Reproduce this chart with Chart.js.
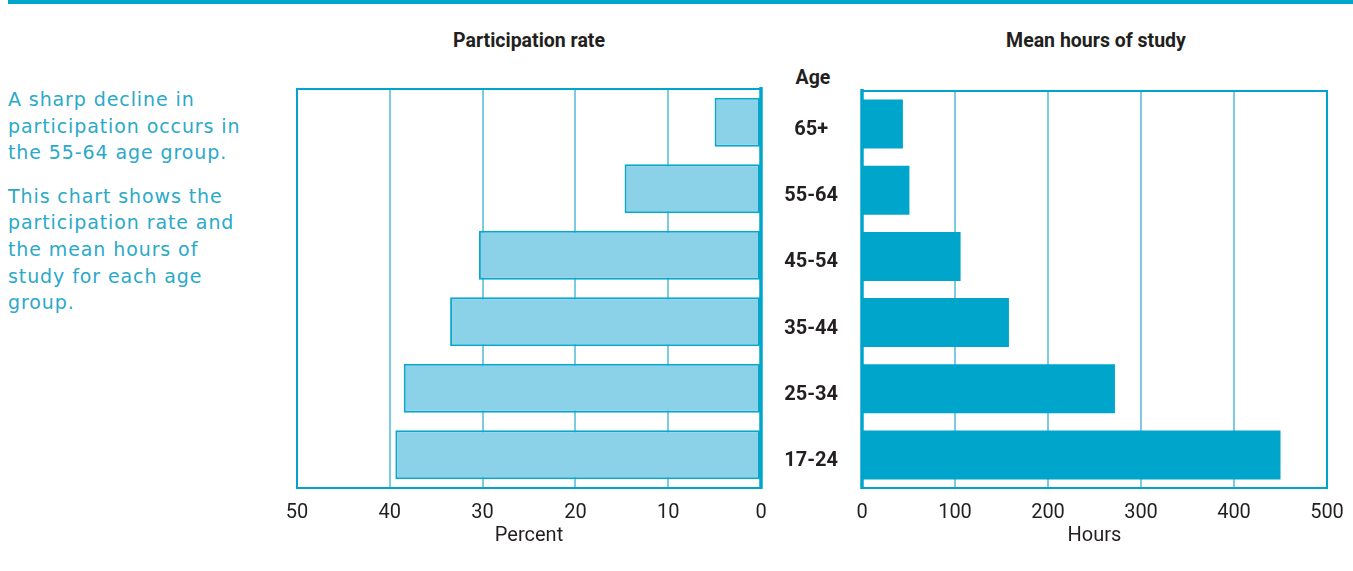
<!DOCTYPE html>
<html>
<head>
<meta charset="utf-8">
<script src="https://cdn.jsdelivr.net/npm/chart.js@4.4.0/dist/chart.umd.min.js"></script>
<style>
  body { margin: 0; background: #fff; width: 1353px; height: 571px; position: relative; overflow: hidden;
         font-family: Roboto, 'Liberation Sans', sans-serif; color: #231f20; }
  .rule { position: absolute; left: 8px; right: 0; top: 0; height: 4px; background: #00a5cb; }
  .note { position: absolute; left: 8px; top: 86px; width: 280px; font-family: 'DejaVu Sans', sans-serif;
          font-size: 19px; line-height: 26.6px; letter-spacing: 0.9px; color: #2aa9c9; }
  .note p { margin: 0 0 17px 0; white-space: nowrap; }
  .head { position: absolute; font-weight: bold; font-size: 19.5px; line-height: 24px;
          transform: translateX(-50%); white-space: nowrap; }
  #wrapL { position: absolute; left: 280px; top: 80px; width: 500px; height: 470px; }
  #wrapR { position: absolute; left: 770px; top: 80px; width: 583px; height: 470px; }
</style>
</head>
<body>
<div class="rule"></div>
<div class="note">
  <p>A sharp decline in<br>participation occurs in<br>the 55-64 age group.</p>
  <p>This chart shows the<br>participation rate and<br>the mean hours of<br>study for each age<br>group.</p>
</div>
<div class="head" style="left:529px;top:29px">Participation rate</div>
<div class="head" style="left:1096px;top:29px">Mean hours of study</div>
<div class="head" style="left:813px;top:66px">Age</div>
<div id="wrapL"><canvas id="leftChart"></canvas></div>
<div id="wrapR"><canvas id="rightChart"></canvas></div>

<script>
// --- données ---
const AGE_GROUPS = ['65+', '55-64', '45-54', '35-44', '25-34', '17-24'];
const PARTICIPATION = [5, 14.7, 30.4, 33.5, 38.5, 39.4];   // %
const MEAN_HOURS = [44, 51, 106, 158, 272, 450];           // heures
const PERCENT_TICKS = [0, 10, 20, 30, 40, 50];
const HOURS_TICKS = [0, 100, 200, 300, 400, 500];

const FRAME = '#00a5cb';
const GRID = '#7dcbe3';
const TEXT = '#231f20';

Chart.defaults.font.family = "Roboto, 'Liberation Sans', sans-serif";
Chart.defaults.color = TEXT;

// on neutralise les marges automatiques des échelles, la mise en page vient de layout.padding
function noPadding(s) {
  s.paddingTop = 0; s.paddingBottom = 0; s.paddingLeft = 0; s.paddingRight = 0;
}

// cadre autour de la zone de tracé + trait épais sur le zéro
const framePlugin = {
  id: 'frame',
  afterDatasetsDraw(chart) {
    const { ctx, chartArea: a } = chart;
    ctx.save();
    ctx.strokeStyle = FRAME;
    ctx.lineWidth = 2;
    ctx.strokeRect(a.left, a.top, a.right - a.left, a.bottom - a.top);
    const x0 = chart.scales.x.getPixelForValue(0);
    ctx.lineWidth = 3.5;
    ctx.beginPath();
    ctx.moveTo(x0, a.top - 2);
    ctx.lineTo(x0, a.bottom + 1);
    ctx.stroke();
    ctx.restore();
  }
};

function xScale(ticksList, max, title, reverse) {
  return {
    type: 'linear',
    min: 0,
    max: max,
    reverse: reverse,
    afterBuildTicks: s => { s.ticks = ticksList.map(v => ({ value: v })); },
    afterFit: s => { s.height = 62; noPadding(s); },
    grid: { color: GRID, lineWidth: 2, drawTicks: false },
    border: { display: false },
    ticks: { font: { size: 20 }, padding: 13, color: TEXT, maxRotation: 0 },
    title: { display: true, text: title, font: { size: 20 }, color: TEXT, padding: { top: 2, bottom: 2 } }
  };
}

new Chart(document.getElementById('leftChart'), {
  type: 'bar',
  data: {
    labels: AGE_GROUPS,
    datasets: [{
      data: PARTICIPATION,
      backgroundColor: '#8bd1e7',
      borderColor: '#0ba6cc',
      borderWidth: 2,
      borderSkipped: false,
      barPercentage: 0.74,
      categoryPercentage: 1
    }]
  },
  options: {
    indexAxis: 'y',
    responsive: true,
    maintainAspectRatio: false,
    animation: false,
    layout: { padding: { left: 17, right: 19, top: 9, bottom: 0 } },
    plugins: { legend: { display: false }, tooltip: { enabled: false } },
    scales: {
      x: xScale(PERCENT_TICKS, 50, 'Percent', true),
      y: { display: false }
    }
  },
  plugins: [framePlugin]
});

new Chart(document.getElementById('rightChart'), {
  type: 'bar',
  data: {
    labels: AGE_GROUPS,
    datasets: [{
      data: MEAN_HOURS,
      backgroundColor: FRAME,
      borderWidth: 0,
      barPercentage: 0.74,
      categoryPercentage: 1
    }]
  },
  options: {
    indexAxis: 'y',
    responsive: true,
    maintainAspectRatio: false,
    animation: false,
    layout: { padding: { left: 0, right: 26, top: 11, bottom: 0 } },
    plugins: { legend: { display: false }, tooltip: { enabled: false } },
    scales: {
      x: xScale(HOURS_TICKS, 500, 'Hours', false),
      y: {
        afterFit: s => { s.width = 92; noPadding(s); },
        grid: { display: false, drawTicks: false },
        border: { display: false },
        ticks: { font: { size: 20, weight: 'bold' }, color: TEXT, padding: 24, crossAlign: 'center', labelOffset: 6 }
      }
    }
  },
  plugins: [framePlugin]
});
</script>
</body>
</html>
